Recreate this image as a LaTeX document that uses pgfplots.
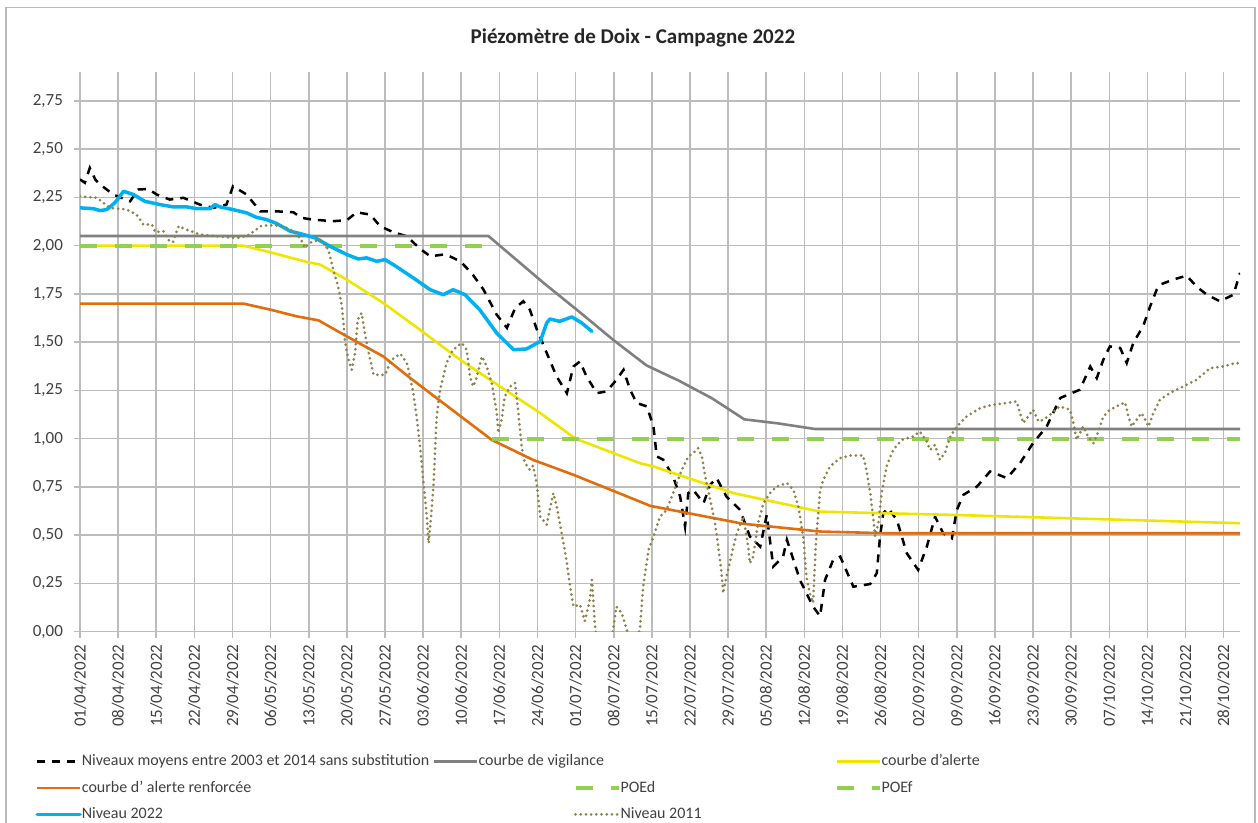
\documentclass[border=0pt]{standalone}
\usepackage{fontspec}
\setmainfont{Carlito}
\usepackage{pgfplots}
\pgfplotsset{compat=1.18}
\definecolor{gridc}{RGB}{188,188,188}
\definecolor{txt}{RGB}{64,64,64}
\definecolor{vig}{RGB}{128,128,128}
\definecolor{alerte}{RGB}{238,230,0}
\definecolor{renf}{RGB}{228,108,10}
\definecolor{poe}{RGB}{146,208,80}
\definecolor{nbleu}{RGB}{0,176,240}
\definecolor{nolive}{RGB}{140,130,78}
\begin{document}
\begin{tikzpicture}[x=1pt,y=1pt]
\useasboundingbox (0,0) rectangle (629,411.5);
\draw[gray!55, line width=0.7pt] (3,-20) rectangle (627.5,407.7);
\begin{axis}[
 at={(40pt,95.65pt)}, anchor=south west,
 scale only axis, width=580pt, height=279.85pt,
 xmin=0, xmax=213, ymin=0, ymax=2.9,
 axis x line*=bottom, axis y line*=left,
 axis line style={gridc, line width=0.8pt},
 grid=major, major grid style={gridc, line width=0.8pt},
 xtick={0,7,14,21,28,35,42,49,56,63,70,77,84,91,98,105,112,119,126,133,140,147,154,161,168,175,182,189,196,203,210},
 xticklabels={01/04/2022,08/04/2022,15/04/2022,22/04/2022,29/04/2022,06/05/2022,13/05/2022,20/05/2022,27/05/2022,03/06/2022,10/06/2022,17/06/2022,24/06/2022,01/07/2022,08/07/2022,15/07/2022,22/07/2022,29/07/2022,05/08/2022,12/08/2022,19/08/2022,26/08/2022,02/09/2022,09/09/2022,16/09/2022,23/09/2022,30/09/2022,07/10/2022,14/10/2022,21/10/2022,28/10/2022},
 ytick={0,0.25,0.5,0.75,1,1.25,1.5,1.75,2,2.25,2.5,2.75},
 tick align=outside, major tick length=3pt,
 tick style={gridc, line width=0.8pt},
 ticklabel style={font=\fontsize{8.5}{10}\selectfont, text=txt},
 xticklabel style={rotate=90, anchor=east},
 yticklabel style={xshift=-2pt, /pgf/number format/fixed, /pgf/number format/fixed zerofill, /pgf/number format/precision=2, /pgf/number format/use comma, /pgf/number format/assume math mode=true},
 title={Piézomètre de Doix - Campagne 2022},
 title style={at={(0.4767,1.040)}, anchor=center, yshift=0pt, font=\bfseries\fontsize{10.5}{12}\selectfont, text=black!85},
 legend columns=4,
 legend cell align=left,
 legend style={at={(-0.03879,-0.21583)}, anchor=north west, draw=none, fill=none, inner sep=0pt,
   font=\fontsize{8}{9.5}\selectfont, text=txt, row sep=4.75pt,
   nodes={inner sep=0.5pt, text height=6pt, text depth=1.5pt},
   /tikz/every odd column/.style={column sep=-0.5pt},
   /tikz/every even column/.style={column sep=0pt}},
 legend image code/.code={\draw[#1] (0pt,0pt) -- (21.5pt,0pt);},
]
% Niveaux moyens 2003-2014
\addplot[black, line width=1.25pt, dash pattern=on 4pt off 3.5pt] table {
0 2.343
0.9 2.326
1.8 2.403
2.8 2.343
3.7 2.317
6.1 2.265
9.2 2.230
10.7 2.291
12.5 2.294
14.1 2.265
16.5 2.239
19.0 2.248
22.0 2.213
24.5 2.196
26.9 2.213
28.1 2.308
30.6 2.265
33.1 2.178
36.1 2.178
39.2 2.173
40.7 2.144
42.8 2.135
46.5 2.127
49.0 2.132
50.8 2.173
53.3 2.161
55.1 2.101
57.5 2.070
60.0 2.049
62.4 1.985
64.3 1.945
66.7 1.954
67.9 1.945
69.8 1.919
71.9 1.859
74.1 1.772
76.5 1.643
78.4 1.574
79.9 1.677
81.4 1.712
82.6 1.668
83.9 1.565
85.7 1.444
87.5 1.323
89.4 1.236
90.6 1.374
91.8 1.400
93.0 1.323
94.9 1.236
96.7 1.245
98.5 1.305
99.8 1.357
101.0 1.254
102.2 1.185
104.1 1.167
105.3 1.063
105.9 0.908
107.1 0.891
108.9 0.804
110.2 0.700
111.1 0.545
111.7 0.718
112.6 0.735
114.5 0.666
115.7 0.761
116.9 0.796
118.7 0.700
121.2 0.631
123.0 0.493
124.9 0.441
126.1 0.605
127.3 0.337
129.1 0.389
129.8 0.476
132.2 0.268
134.6 0.130
135.9 0.080
136.8 0.268
138.3 0.372
139.6 0.389
142.0 0.233
145.1 0.247
146.3 0.303
146.9 0.493
147.5 0.614
148.4 0.640
150.0 0.579
151.8 0.407
153.9 0.320
155.5 0.441
157.0 0.596
158.5 0.510
160.1 0.484
161.0 0.631
162.2 0.709
164.7 0.752
167.1 0.830
170.2 0.796
172.6 0.873
175.0 0.977
177.5 1.063
180.0 1.211
183.6 1.254
185.5 1.374
186.7 1.314
187.9 1.409
189.1 1.478
191.0 1.470
192.2 1.392
193.4 1.496
195.2 1.582
196.5 1.686
197.7 1.772
198.3 1.798
200.7 1.824
203.2 1.845
205.0 1.789
206.9 1.746
209.3 1.712
211.8 1.746
213.0 1.859
};
\addlegendentry{\makebox[175pt][l]{Niveaux moyens entre 2003 et 2014 sans substitution}}
% courbe de vigilance
\addplot[vig, line width=1.3pt] table {
0 2.05
75 2.05
85 1.81
92 1.65
98 1.51
104 1.38
110 1.30
116 1.21
122 1.10
128 1.08
135 1.05
213 1.05
};
\addlegendentry{\makebox[47pt][l]{courbe de vigilance}}
\addlegendimage{empty legend}
\addlegendentry{\makebox[106.5pt][l]{}}
% courbe d'alerte
\addplot[alerte, line width=1.3pt] table {
0 2.00
30 2.00
34.9 1.966
41.9 1.914
44.1 1.902
49.0 1.824
55.7 1.703
62.4 1.565
69.8 1.409
77.1 1.271
84.5 1.133
91.0 1.000
102.8 0.873
105.3 0.856
120.0 0.718
135.9 0.622
160.4 0.605
213 0.562
};
\addlegendentry{courbe d'alerte}
% courbe d'alerte renforcee
\addplot[renf, line width=1.3pt] table {
0 1.70
30 1.70
34.9 1.669
39.8 1.634
43.8 1.613
49.0 1.530
55.7 1.426
60.6 1.315
75.6 0.994
83.2 0.890
90.6 0.813
102.8 0.674
104.7 0.652
121.8 0.559
135.9 0.519
148.1 0.510
213 0.510
};
\addlegendentry{\makebox[175pt][l]{courbe d' alerte renforcée}}
\addlegendimage{empty legend}
\addlegendentry{}
% POEd
\addplot[poe, line width=2pt, dash pattern=on 8.5pt off 9pt] table {
0 2.00
74 2.00
};
\addlegendentry{\makebox[106.5pt][l]{POEd}}
% POEf
\addplot[poe, line width=2pt, dash pattern=on 8.5pt off 9pt] table {
75.6 1.00
213 1.00
};
\addlegendentry{POEf}
% Niveau 2022
\addplot[nbleu, line width=1.75pt, line cap=round, line join=round] table {
0 2.196
2.4 2.192
3.7 2.182
4.9 2.187
6.4 2.222
8.0 2.282
9.8 2.265
11.9 2.230
14.7 2.213
17.1 2.201
19.6 2.201
21.4 2.192
23.9 2.192
24.8 2.213
25.7 2.201
28.1 2.187
30.6 2.170
32.4 2.147
34.3 2.135
36.1 2.115
38.6 2.075
40.4 2.063
43.2 2.040
45.9 1.997
49.0 1.954
51.1 1.931
52.6 1.937
54.5 1.919
56.0 1.928
57.8 1.897
61.2 1.833
64.3 1.772
66.7 1.746
68.5 1.772
70.7 1.746
73.4 1.668
76.5 1.548
79.6 1.461
82.0 1.465
84.5 1.504
85.7 1.600
86.3 1.620
88.1 1.608
90.3 1.631
92.1 1.600
94.0 1.556
};
\addlegendentry{\makebox[175pt][l]{Niveau 2022}}
\addlegendimage{empty legend}
\addlegendentry{}
% Niveau 2011
\addplot[nolive, line width=1.5pt, line cap=round, dash pattern=on 0pt off 2.6pt] table {
0 2.256
3.1 2.248
5.5 2.196
8.6 2.187
10.4 2.161
11.6 2.110
13.2 2.110
13.8 2.070
15.3 2.075
16.5 2.020
17.1 2.020
18.1 2.101
19.6 2.083
22.0 2.058
25.1 2.049
28.1 2.041
29.4 2.041
31.2 2.058
33.1 2.101
34.9 2.106
37.3 2.101
39.2 2.075
40.4 2.041
41.3 1.989
42.2 2.015
44.1 2.032
45.6 1.980
46.5 1.876
47.4 1.790
48.1 1.686
48.7 1.496
49.3 1.409
49.9 1.357
50.5 1.444
51.0 1.617
51.7 1.651
52.3 1.548
52.9 1.461
53.9 1.331
56.0 1.331
57.2 1.409
58.8 1.440
60.0 1.392
60.6 1.323
61.2 1.236
61.8 1.115
62.4 0.970
63.0 0.795
63.7 0.590
64.0 0.459
64.3 0.545
64.9 0.752
65.2 0.942
65.5 1.115
66.1 1.250
67.3 1.392
68.5 1.461
70.1 1.496
71.0 1.461
71.6 1.323
72.2 1.271
72.8 1.314
73.8 1.426
74.7 1.374
75.6 1.288
76.5 1.140
76.8 1.030
77.4 1.098
78.0 1.219
79.0 1.271
79.9 1.288
80.5 1.130
81.1 0.960
81.7 0.873
82.6 0.839
83.2 0.860
83.9 0.760
84.5 0.596
85.7 0.555
86.9 0.718
87.5 0.655
88.7 0.470
89.4 0.355
90.0 0.233
90.6 0.130
91.8 0.140
92.7 0.055
93.6 0.164
94.0 0.268
94.3 0.140
94.6 0.015
95.5 -0.150
97.3 -0.100
98.5 0.130
99.5 0.095
100.4 0.009
101.4 -0.100
102.8 0.009
103.4 0.233
104.4 0.424
105.3 0.493
106.5 0.596
107.7 0.631
108.9 0.718
110.5 0.839
111.7 0.908
112.6 0.925
113.5 0.951
114.2 0.908
114.8 0.804
116.0 0.648
116.6 0.562
117.2 0.441
117.8 0.303
118.1 0.199
118.7 0.285
119.7 0.407
120.6 0.510
121.8 0.596
122.7 0.441
123.0 0.355
123.6 0.389
124.5 0.562
125.5 0.666
126.7 0.718
127.9 0.752
129.8 0.770
131.0 0.735
131.9 0.648
132.8 0.493
133.4 0.285
134.0 0.199
134.6 0.150
135.1 0.450
135.9 0.735
136.5 0.787
137.7 0.856
139.6 0.899
141.4 0.913
143.8 0.913
144.5 0.822
145.1 0.718
145.7 0.579
146.0 0.493
146.6 0.562
147.2 0.718
148.1 0.856
149.3 0.942
150.9 0.994
153.0 1.011
154.2 1.037
155.5 0.985
156.1 0.942
157.0 0.968
157.9 0.891
158.8 0.925
159.8 1.011
161.0 1.063
162.8 1.115
165.3 1.159
167.7 1.176
170.2 1.185
172.0 1.193
172.6 1.133
173.2 1.081
174.1 1.115
175.0 1.150
176.0 1.089
176.9 1.098
178.1 1.124
179.9 1.167
181.8 1.150
182.4 1.081
183.0 0.994
184.2 1.063
185.1 1.011
186.1 0.977
187.0 1.037
187.9 1.115
189.1 1.150
191.0 1.176
191.9 1.188
192.5 1.115
193.1 1.063
194.0 1.098
194.9 1.133
195.6 1.098
196.2 1.063
197.1 1.133
198.3 1.202
200.1 1.236
202.6 1.271
205.0 1.305
207.5 1.366
209.9 1.374
212.1 1.392
213.0 1.390
};
\addlegendentry{Niveau 2011}
\end{axis}
\end{tikzpicture}
\end{document}
